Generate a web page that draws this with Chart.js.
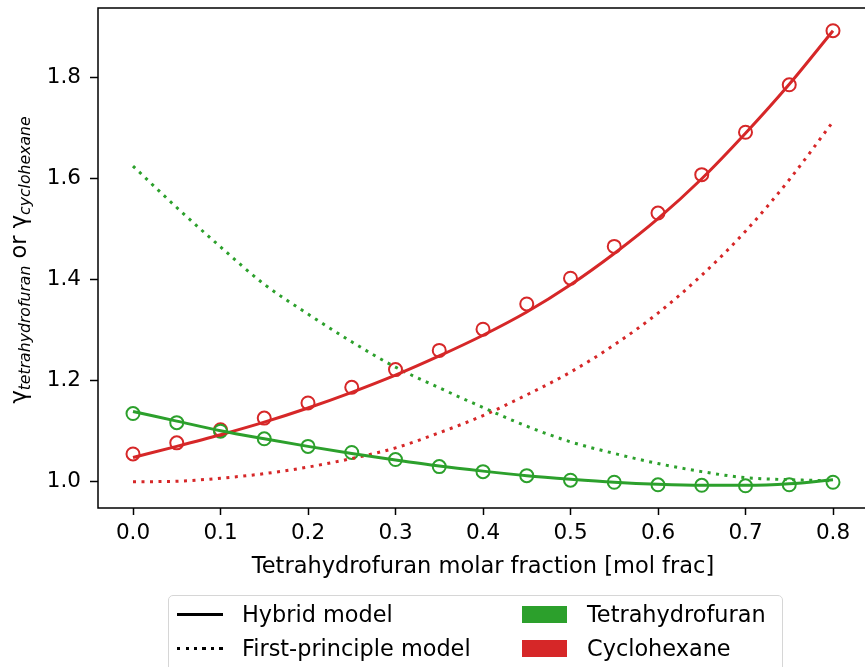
<!DOCTYPE html>
<html>
<head>
<meta charset="utf-8">
<script src="https://cdn.jsdelivr.net/npm/chart.js@4"></script>
<style>
  body { margin: 0; overflow: hidden; background: #fff; font-family: "DejaVu Sans", sans-serif; }
  #wrap { position: relative; width: 865px; height: 667px; overflow: hidden; }
  #chart { position: absolute; left: 0; top: 0; }
  #legend { position: absolute; left: 168px; top: 595px; width: 613px; height: 90px;
            border: 1px solid #d6d6d6; border-radius: 5px; background: rgba(255,255,255,0.8); }
  .lg { position: absolute; font-size: 22.4px; color: #000; line-height: 24px; white-space: nowrap; }
  .solid { position: absolute; height: 3px; background: #000; }
  .dotted { position: absolute; height: 3px;
            background: repeating-linear-gradient(to right, #000 0 3px, transparent 3px 8.5px); }
  .patch { position: absolute; width: 45px; height: 17px; }
</style>
</head>
<body>
<div id="wrap">
  <canvas id="chart" width="870" height="667"></canvas>
  <div id="legend"></div>
</div>
<script>
// mole fraction of tetrahydrofuran
let xs = [0, 0.05, 0.1, 0.15, 0.2, 0.25, 0.3, 0.35, 0.4, 0.45, 0.5, 0.55, 0.6, 0.65, 0.7, 0.75, 0.8];

// measured activity coefficients (circles)
let thfData = [1.135, 1.117, 1.100, 1.085, 1.070, 1.058, 1.044, 1.030, 1.020, 1.012, 1.003, 0.999, 0.994, 0.993, 0.992, 0.994, 0.999];
let chxData = [1.055, 1.077, 1.103, 1.126, 1.156, 1.187, 1.222, 1.260, 1.302, 1.352, 1.403, 1.466, 1.532, 1.608, 1.692, 1.786, 1.893];

// hybrid model (solid)
let thfHybrid = [1.139, 1.120, 1.101, 1.085, 1.070, 1.056, 1.043, 1.031, 1.021, 1.012, 1.005, 0.999, 0.995, 0.993, 0.993, 0.996, 1.004];
let chxHybrid = [1.048, 1.070, 1.093, 1.118, 1.146, 1.177, 1.211, 1.249, 1.290, 1.336, 1.390, 1.452, 1.521, 1.600, 1.690, 1.787, 1.893];

// first-principle model (dotted)
let thfFirst = [1.625, 1.543, 1.465, 1.391, 1.332, 1.277, 1.227, 1.186, 1.147, 1.110, 1.079, 1.056, 1.036, 1.020, 1.008, 1.004, 1.002];
let chxFirst = [1.000, 1.001, 1.007, 1.016, 1.029, 1.046, 1.067, 1.097, 1.131, 1.172, 1.217, 1.271, 1.334, 1.409, 1.496, 1.598, 1.713];

let xTicks = [0, 0.1, 0.2, 0.3, 0.4, 0.5, 0.6, 0.7, 0.8];
let yTicks = [1.0, 1.2, 1.4, 1.6, 1.8];

let green = '#2ca02c';
let red = '#d62728';

let pts = arr => arr.map((v, i) => ({ x: xs[i], y: v }));

function lineSet(label, arr, color, dotted) {
    return {
        label: label,
        data: pts(arr),
        showLine: true,
        borderColor: color,
        borderWidth: 3,
        borderDash: dotted ? [3, 5.5] : [],
        pointRadius: 0,
        fill: false,
        cubicInterpolationMode: 'monotone',
    };
}

function markerSet(label, arr, color) {
    return {
        label: label,
        data: pts(arr),
        showLine: false,
        borderColor: color,
        backgroundColor: 'rgba(0,0,0,0)',
        pointRadius: 6.5,
        pointBorderWidth: 2,
        pointBackgroundColor: 'rgba(0,0,0,0)',
        pointBorderColor: color,
    };
}

// frame around the plot area + rotated y label with subscripts
let frame = {
    id: 'frame',
    afterDraw(chart) {
        let c = chart.ctx, a = chart.chartArea;
        c.save();
        c.strokeStyle = '#000';
        c.lineWidth = 1.5;
        c.strokeRect(a.left, a.top, a.right - a.left, a.bottom - a.top);

        // y axis label
        let parts = [
            { t: 'γ', f: '22.5px "DejaVu Sans"', dy: 0 },
            { t: 'tetrahydrofuran', f: 'italic 15.7px "DejaVu Sans"', dy: 4 },
            { t: ' or ', f: '22.5px "DejaVu Sans"', dy: 0 },
            { t: 'γ', f: '22.5px "DejaVu Sans"', dy: 0 },
            { t: 'cyclohexane', f: 'italic 15.7px "DejaVu Sans"', dy: 4 },
        ];
        let w = 0;
        parts.forEach(p => { c.font = p.f; p.w = c.measureText(p.t).width; w += p.w; });
        c.translate(26, (a.top + a.bottom) / 2 + 2);
        c.rotate(-Math.PI / 2);
        c.fillStyle = '#000';
        c.textBaseline = 'alphabetic';
        c.textAlign = 'left';
        let x = -w / 2;
        parts.forEach(p => { c.font = p.f; c.fillText(p.t, x, p.dy); x += p.w; });
        c.restore();
    }
};

let tickFont = { family: 'DejaVu Sans', size: 21.5 };
let titleFont = { family: 'DejaVu Sans', size: 22.5 };

let noPad = s => { s.paddingLeft = 0; s.paddingRight = 0; s.paddingTop = 0; s.paddingBottom = 0; };

new Chart(document.getElementById('chart'), {
    type: 'scatter',
    data: {
        datasets: [
            lineSet('Tetrahydrofuran hybrid', thfHybrid, green, false),
            lineSet('Cyclohexane hybrid', chxHybrid, red, false),
            lineSet('Tetrahydrofuran first-principle', thfFirst, green, true),
            lineSet('Cyclohexane first-principle', chxFirst, red, true),
            markerSet('Tetrahydrofuran data', thfData, green),
            markerSet('Cyclohexane data', chxData, red),
        ]
    },
    options: {
        responsive: false,
        animation: false,
        devicePixelRatio: 1,
        layout: { autoPadding: false, padding: { top: 8, right: 2, left: 0, bottom: 0 } },
        plugins: { legend: { display: false }, tooltip: { enabled: false } },
        scales: {
            x: {
                type: 'linear',
                min: -0.04,
                max: 0.84,
                afterBuildTicks: s => { s.ticks = xTicks.map(v => ({ value: v })); },
                afterFit: s => { s.height = 159; noPad(s); },
                ticks: { font: tickFont, color: '#000', padding: 6, maxRotation: 0,
                         callback: v => v.toFixed(1) },
                grid: { display: true, drawOnChartArea: false, drawTicks: true,
                        tickLength: 7, tickColor: '#000', tickWidth: 1.5 },
                border: { display: false },
                title: { display: true, text: 'Tetrahydrofuran molar fraction [mol frac]',
                         font: titleFont, color: '#000', padding: { top: 0, bottom: 86 } },
            },
            y: {
                type: 'linear',
                min: 0.948,
                max: 1.938,
                afterBuildTicks: s => { s.ticks = yTicks.map(v => ({ value: v })); },
                afterFit: s => { s.width = 98; noPad(s); },
                ticks: { font: tickFont, color: '#000', padding: 9,
                         callback: v => v.toFixed(1) },
                grid: { display: true, drawOnChartArea: false, drawTicks: true,
                        tickLength: 8, tickColor: '#000', tickWidth: 1.5 },
                border: { display: false },
            }
        }
    },
    plugins: [frame]
});

// legend, laid out in two columns like the original
let legend = document.getElementById('legend');
let items = [
    { kind: 'solid', label: 'Hybrid model', col: 0, row: 0 },
    { kind: 'dotted', label: 'First-principle model', col: 0, row: 1 },
    { kind: 'patch', color: green, label: 'Tetrahydrofuran', col: 1, row: 0 },
    { kind: 'patch', color: red, label: 'Cyclohexane', col: 1, row: 1 },
];
items.forEach(it => {
    let cy = 18 + it.row * 34;
    let hx = it.col === 0 ? 8 : 353;
    let tx = it.col === 0 ? 73 : 418;
    let h = document.createElement('div');
    h.className = it.kind;
    if (it.kind === 'patch') {
        h.style.left = hx + 'px'; h.style.top = (cy - 8) + 'px'; h.style.background = it.color;
    } else {
        h.style.left = hx + 'px'; h.style.top = (cy - 1) + 'px'; h.style.width = '46px';
    }
    legend.appendChild(h);
    let t = document.createElement('div');
    t.className = 'lg';
    t.textContent = it.label;
    t.style.left = tx + 'px';
    t.style.top = (cy - 12) + 'px';
    legend.appendChild(t);
});
</script>
</body>
</html>
